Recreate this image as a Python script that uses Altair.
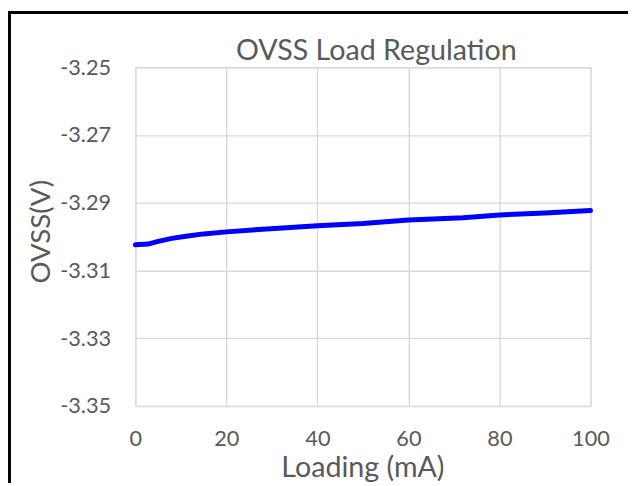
import altair as alt
import pandas as pd

# Data
loading_ma = [0, 2.8, 5, 8, 11.5, 15, 20, 28, 40, 50, 60, 72, 80, 90, 100]
ovss_v = [-3.3024, -3.3022, -3.3014, -3.3005, -3.2998, -3.2992, -3.2986, -3.2978,
          -3.2968, -3.2961, -3.2951, -3.2944, -3.2936, -3.2930, -3.2923]
x_ticks = [0, 20, 40, 60, 80, 100]
y_ticks = [-3.35, -3.33, -3.31, -3.29, -3.27, -3.25]
title_text = "OVSS Load Regulation"
x_title = "Loading (mA)"
y_title = "OVSS(V)"

df = pd.DataFrame({"x": loading_ma, "y": ovss_v})
one = pd.DataFrame({"a": [0]})

FONT = "Lato"
TXT = "#595959"
GRID = "#d9d9d9"

line = alt.Chart(df).mark_line(color="#0000ff", strokeWidth=5, strokeCap="round").encode(
    x=alt.X("x:Q", scale=alt.Scale(domain=[0, 100], nice=False),
            axis=alt.Axis(values=x_ticks, title=x_title, grid=True, domain=False, ticks=False,
                          tickSize=0, labelPadding=23, labelFontSize=22, labelFont=FONT,
                          labelFlush=False, labelOverlap=False,
                          labelColor=TXT, titleFont=FONT, titleFontSize=29, titleColor=TXT,
                          titleFontWeight="normal", titleX=230, titleY=71,
                          titleBaseline="alphabetic", titleAlign="center",
                          gridColor=GRID, gridWidth=1.4)),
    y=alt.Y("y:Q", scale=alt.Scale(domain=[-3.35, -3.25], nice=False, zero=False),
            axis=alt.Axis(values=y_ticks, format=".2f", title=y_title, grid=True, domain=False,
                          labelExpr="replace(datum.label, '\u2212', '-')",
                          labelFlush=False, labelOverlap=False,
                          ticks=False, tickSize=0, labelPadding=25, labelFontSize=22,
                          labelFont=FONT, labelColor=TXT, titleFont=FONT, titleFontSize=28,
                          titleColor=TXT, titleFontWeight="normal", titleAngle=-90,
                          titleX=-95, titleY=166, titleAlign="center", titleBaseline="middle",
                          gridColor=GRID, gridWidth=1.4)),
)

title = alt.Chart(one).mark_text(
    text=title_text, font=FONT, fontSize=29, color=TXT, align="center", baseline="alphabetic"
).encode(x=alt.value(244), y=alt.value(-7))

top_border = alt.Chart(one).mark_rule(color="black", strokeWidth=3).encode(
    x=alt.value(-129), x2=alt.value(499), y=alt.value(-55.5))
left_border = alt.Chart(one).mark_rule(color="black", strokeWidth=3).encode(
    x=alt.value(-127.5), y=alt.value(-57), y2=alt.value(421))

chart = alt.layer(line, title, top_border, left_border).properties(
    width=461, height=343,
    autosize=alt.AutoSizeParams(type="none"),
    padding={"left": 129, "top": 57, "right": 38, "bottom": 78},
).configure_view(stroke=None).configure(background="white")

chart.save("out.html", embed_options={"renderer": "svg", "actions": False})
